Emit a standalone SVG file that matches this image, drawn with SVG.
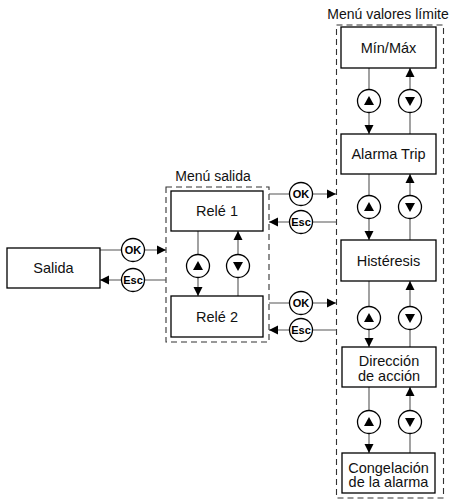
<svg xmlns="http://www.w3.org/2000/svg" width="455" height="500" viewBox="0 0 455 500">
<defs>
<marker id="ah" markerUnits="userSpaceOnUse" markerWidth="10" markerHeight="10" refX="9" refY="5" orient="auto">
<path d="M0,0.5 L9,5 L0,9.5 Z" fill="#000"/>
</marker>
</defs>
<style>
.box{fill:#fff;stroke:#000;stroke-width:1.3}
.grp{fill:none;stroke:#333;stroke-width:1.1;stroke-dasharray:6 4}
.ln{fill:none;stroke:#555;stroke-width:1.1}
.arr{marker-end:url(#ah)}
.btn{fill:#fff;stroke:#000;stroke-width:1.3}
.tri{fill:#000}
.lbl{font-family:"Liberation Sans",Arial,sans-serif;font-size:14.5px;fill:#111;text-anchor:middle}
.ttl{font-family:"Liberation Sans",Arial,sans-serif;font-size:14px;fill:#111;text-anchor:middle}
.key{font-family:"Liberation Sans",Arial,sans-serif;font-size:11px;font-weight:bold;fill:#000;text-anchor:middle}
</style>
<rect width="455" height="500" fill="#fff"/>

<g id="menu-salida-group">
<rect class="grp" x="166" y="187" width="103" height="155"/>
<text class="ttl" x="213" y="181">Menú salida</text>
</g>
<g id="menu-valores-group">
<rect class="grp" x="336.5" y="25" width="107" height="473"/>
<text class="ttl" x="388" y="19">Menú valores límite</text>
</g>

<g id="connectors">
<!-- Salida <-> Menu salida -->
<line class="ln arr" x1="100" y1="250" x2="166" y2="250"/>
<line class="ln arr" x1="166" y1="280" x2="100" y2="280"/>
<!-- Rele 1 <-> Rele 2 -->
<line class="ln arr" x1="198" y1="231" x2="198" y2="296"/>
<line class="ln arr" x1="238" y1="296" x2="238" y2="231"/>
<!-- Rele 1 <-> valores -->
<line class="ln arr" x1="269" y1="194" x2="336" y2="194"/>
<line class="ln arr" x1="336.5" y1="222" x2="269" y2="222"/>
<!-- Rele 2 <-> valores -->
<line class="ln arr" x1="269" y1="303" x2="336" y2="303"/>
<line class="ln arr" x1="336.5" y1="330" x2="269" y2="330"/>
<!-- right column -->
<line class="ln arr" x1="369" y1="68" x2="369" y2="134"/>
<line class="ln arr" x1="410" y1="134" x2="410" y2="68"/>
<line class="ln arr" x1="369" y1="174" x2="369" y2="240"/>
<line class="ln arr" x1="410" y1="240" x2="410" y2="174"/>
<line class="ln arr" x1="369" y1="281" x2="369" y2="347"/>
<line class="ln arr" x1="410" y1="347" x2="410" y2="281"/>
<line class="ln arr" x1="369" y1="387" x2="369" y2="453"/>
<line class="ln arr" x1="410" y1="453" x2="410" y2="387"/>

<!-- OK / Esc buttons -->
<g id="btn-ok-1"><circle class="btn" cx="133" cy="250" r="11.5"/><text class="key" x="133" y="254">OK</text></g>
<g id="btn-esc-1"><circle class="btn" cx="133" cy="280" r="11.5"/><text class="key" x="133" y="284">Esc</text></g>
<g id="btn-ok-2"><circle class="btn" cx="301" cy="194" r="11.5"/><text class="key" x="301" y="198">OK</text></g>
<g id="btn-esc-2"><circle class="btn" cx="301" cy="222" r="11.5"/><text class="key" x="301" y="226">Esc</text></g>
<g id="btn-ok-3"><circle class="btn" cx="301" cy="303" r="11.5"/><text class="key" x="301" y="307">OK</text></g>
<g id="btn-esc-3"><circle class="btn" cx="301" cy="330" r="11.5"/><text class="key" x="301" y="334">Esc</text></g>

<!-- up/down buttons -->
<g id="up-l"><circle class="btn" cx="198" cy="266" r="11.5"/><path class="tri" d="M193,270 L203,270 L198,261 Z"/></g>
<g id="dn-l"><circle class="btn" cx="238" cy="266" r="11.5"/><path class="tri" d="M233,262 L243,262 L238,271 Z"/></g>
<g id="up-r1"><circle class="btn" cx="369" cy="101" r="11.5"/><path class="tri" d="M364,105 L374,105 L369,96 Z"/></g>
<g id="dn-r1"><circle class="btn" cx="410" cy="101" r="11.5"/><path class="tri" d="M405,97 L415,97 L410,106 Z"/></g>
<g id="up-r2"><circle class="btn" cx="369" cy="207" r="11.5"/><path class="tri" d="M364,211 L374,211 L369,202 Z"/></g>
<g id="dn-r2"><circle class="btn" cx="410" cy="207" r="11.5"/><path class="tri" d="M405,203 L415,203 L410,212 Z"/></g>
<g id="up-r3"><circle class="btn" cx="369" cy="318" r="11.5"/><path class="tri" d="M364,322 L374,322 L369,313 Z"/></g>
<g id="dn-r3"><circle class="btn" cx="410" cy="318" r="11.5"/><path class="tri" d="M405,314 L415,314 L410,323 Z"/></g>
<g id="up-r4"><circle class="btn" cx="369" cy="422" r="11.5"/><path class="tri" d="M364,426 L374,426 L369,417 Z"/></g>
<g id="dn-r4"><circle class="btn" cx="410" cy="422" r="11.5"/><path class="tri" d="M405,418 L415,418 L410,427 Z"/></g>
</g>

<g id="salida"><rect class="box" x="7" y="248" width="93" height="40"/><text class="lbl" x="53.5" y="273">Salida</text></g>
<g id="rele1"><rect class="box" x="171" y="191" width="92" height="40"/><text class="lbl" x="217" y="216">Relé 1</text></g>
<g id="rele2"><rect class="box" x="171" y="296" width="92" height="41"/><text class="lbl" x="217" y="321.5">Relé 2</text></g>
<g id="minmax"><rect class="box" x="341" y="27" width="95" height="41"/><text class="lbl" x="388.5" y="52.5">Mín/Máx</text></g>
<g id="alarma-trip"><rect class="box" x="341" y="134" width="95" height="40"/><text class="lbl" x="388.5" y="159">Alarma Trip</text></g>
<g id="histeresis"><rect class="box" x="341" y="240" width="95" height="41"/><text class="lbl" x="388.5" y="265.5">Histéresis</text></g>
<g id="direccion"><rect class="box" x="342" y="347" width="94" height="40"/><text class="lbl" x="389" y="366">Dirección</text><text class="lbl" x="389" y="380.5">de acción</text></g>
<g id="congelacion"><rect class="box" x="342" y="453" width="93" height="40"/><text class="lbl" x="388.5" y="472.5">Congelación</text><text class="lbl" x="388.5" y="487">de la alarma</text></g>
</svg>
